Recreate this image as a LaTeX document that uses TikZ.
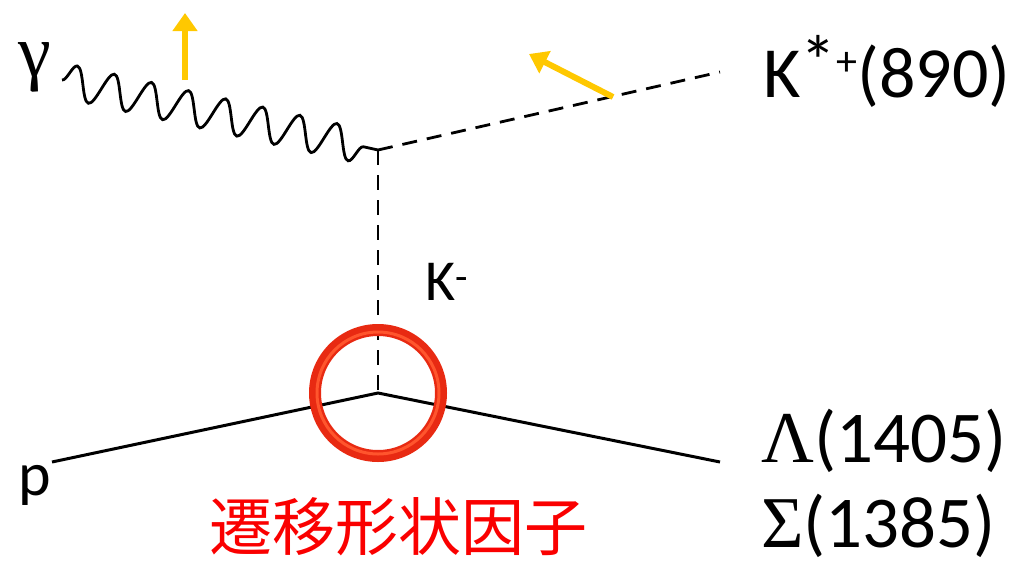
\documentclass[tikz,border=0pt]{standalone}
\usepackage{fontspec}
\setmainfont{Carlito}
\newfontfamily\grk{Liberation Serif}
\newfontfamily\cjk{Noto Sans CJK JP}
\usetikzlibrary{decorations.pathmorphing,arrows.meta}
\definecolor{yarr}{RGB}{255,200,0}
\definecolor{ring}{RGB}{232,42,18}
\definecolor{ringhi}{RGB}{255,85,45}
\definecolor{jred}{RGB}{250,0,0}
\begin{document}
\begin{tikzpicture}[x=1pt,y=-1pt,
  lbl/.style={inner sep=0pt,anchor=base west},
  yarrow/.style={draw=yarr,line width=6pt,-{Triangle[length=18pt,width=24pt]}},
  meson/.style={line width=2.8pt,dash pattern=on 15pt off 10pt},
  fermion/.style={line width=3pt},
  photon/.style={line width=2.8pt,decorate,decoration={snake,segment length=38pt,amplitude=17pt}}]
\useasboundingbox (0,0) rectangle (1023,560);
\coordinate (v1) at (378,150);
\coordinate (v2) at (378,393);
\coordinate (gs) at (62,80);
\coordinate (ke) at (720,72);
\coordinate (ps) at (52,462);
\coordinate (le) at (720,462);
\coordinate (a1s) at (185,80);
\coordinate (a1e) at (185,13);
\coordinate (a2s) at (613,97);
\coordinate (a2e) at (529,54);

\draw[photon] (gs) -- (v1);
\draw[meson] (v1) -- (ke);
\draw[meson] (v1) -- (v2);
\draw[fermion] (ps) -- (v2) -- (le);
\draw[ring,line width=12pt] (v2) circle[radius=63pt];
\draw[ringhi,line width=3pt] (v2) circle[radius=61pt];
\draw[yarrow] (a1s) -- (a1e);
\draw[yarrow] (a2s) -- (a2e);

\node[lbl] (gam) at (18,76) {\fontsize{74}{74}\selectfont\grk γ};
\node[lbl] (kst) at (763,97) {\fontsize{72}{72}\selectfont K\raisebox{0.15em}{*}\raisebox{0.3em}{\fontsize{42}{42}\selectfont +}(890)};
\node[lbl] (km) at (425,300) {\fontsize{58}{58}\selectfont K\textsuperscript{-}};
\node[lbl] (p) at (18,495) {\fontsize{62}{62}\selectfont p};
\node[lbl] (lam) at (761,462) {\fontsize{73}{73}\selectfont{\grk Λ}(1405)};
\node[lbl] (sig) at (761,547) {\fontsize{73}{73}\selectfont{\grk Σ}(1385)};
\node[inner sep=0pt,text=jred] (tff) at (398,527) {\fontsize{63}{63}\selectfont\cjk 遷移形状因子};
\end{tikzpicture}
\end{document}
